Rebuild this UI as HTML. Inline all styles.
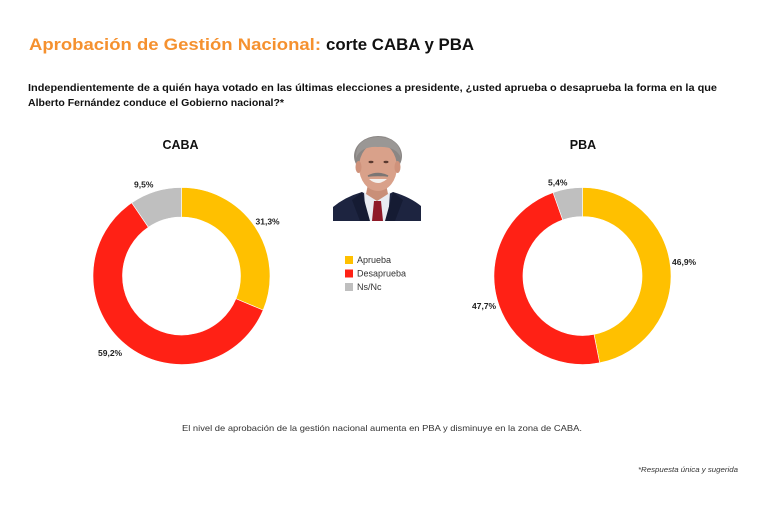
<!DOCTYPE html>
<html>
<head>
<meta charset="utf-8">
<style>
  html, body { margin: 0; padding: 0; background: #ffffff; }
  body { width: 768px; height: 512px; overflow: hidden; }
  svg { display: block; }
  text { font-family: "Liberation Sans", "DejaVu Sans", sans-serif; }
</style>
</head>
<body>
<svg width="768" height="512" viewBox="0 0 768 512" xmlns="http://www.w3.org/2000/svg">
  <rect x="0" y="0" width="768" height="512" fill="#ffffff"/>

  <!-- Title -->
  <text x="29" y="50" font-size="17" font-weight="bold" fill="#F5912F" textLength="292" lengthAdjust="spacingAndGlyphs">Aprobación de Gestión Nacional:</text>
  <text x="326" y="50" font-size="17" font-weight="bold" fill="#111111" textLength="148" lengthAdjust="spacingAndGlyphs">corte CABA y PBA</text>

  <!-- Question -->
  <text x="28" y="91" font-size="10" font-weight="bold" fill="#111111" textLength="689" lengthAdjust="spacingAndGlyphs">Independientemente de a quién haya votado en las últimas elecciones a presidente, ¿usted aprueba o desaprueba la forma en la que</text>
  <text x="28" y="106" font-size="10" font-weight="bold" fill="#111111" textLength="256" lengthAdjust="spacingAndGlyphs">Alberto Fernández conduce el Gobierno nacional?*</text>

  <!-- Chart titles -->
  <text x="180.5" y="149" font-size="12.5" font-weight="bold" fill="#111111" text-anchor="middle">CABA</text>
  <text x="583" y="149" font-size="12.5" font-weight="bold" fill="#111111" text-anchor="middle">PBA</text>

  <!-- CABA donut -->
  <g stroke="#ffffff" stroke-width="0.6">
    <path d="M181.5,187.5 A88.5,88.5 0 0 1 263.14,310.15 L235.93,298.77 A59,59 0 0 0 181.5,217 Z" fill="#FFC000"/>
    <path d="M263.14,310.15 A88.5,88.5 0 1 1 131.75,202.80 L148.34,227.20 A59,59 0 1 0 235.93,298.77 Z" fill="#FF2115"/>
    <path d="M131.75,202.80 A88.5,88.5 0 0 1 181.5,187.5 L181.5,217 A59,59 0 0 0 148.34,227.20 Z" fill="#BFBFBF"/>
  </g>
  <text x="255.5" y="224.5" font-size="8.5" font-weight="bold" fill="#222">31,3%</text>
  <text x="134" y="187.5" font-size="8.5" font-weight="bold" fill="#222">9,5%</text>
  <text x="98" y="356" font-size="8.5" font-weight="bold" fill="#222">59,2%</text>

  <!-- PBA donut -->
  <g stroke="#ffffff" stroke-width="0.6">
    <path d="M582.5,187.5 A88.5,88.5 0 0 1 599.63,362.83 L594.02,334.38 A59.5,59.5 0 0 0 582.5,216.5 Z" fill="#FFC000"/>
    <path d="M599.63,362.83 A88.5,88.5 0 0 1 553.05,192.54 L562.70,219.89 A59.5,59.5 0 0 0 594.02,334.38 Z" fill="#FF2115"/>
    <path d="M553.05,192.54 A88.5,88.5 0 0 1 582.5,187.5 L582.5,216.5 A59.5,59.5 0 0 0 562.70,219.89 Z" fill="#BFBFBF"/>
  </g>
  <text x="548" y="185.5" font-size="8.5" font-weight="bold" fill="#222">5,4%</text>
  <text x="672" y="265" font-size="8.5" font-weight="bold" fill="#222">46,9%</text>
  <text x="472" y="309" font-size="8.5" font-weight="bold" fill="#222">47,7%</text>

  <!-- Portrait (stylized) -->
  <g>
    <path d="M333,207 Q345,197 362,192 L377,200 L393,192 Q410,197 421,206 L421,221 L333,221 Z" fill="#1d2440"/>
    <path d="M364,192 L377,200 L390,192 L388,221 L366,221 Z" fill="#e9ecf2"/>
    <path d="M368,184 L386,184 L388,194 L377,201 L366,194 Z" fill="#c98f78"/>
    <path d="M362,192 L370,221 L360,221 L352,200 Z" fill="#151b33"/>
    <path d="M393,192 L385,221 L395,221 L403,200 Z" fill="#151b33"/>
    <path d="M374,201 L381,201 L383,221 L372,221 Z" fill="#8e1a28"/>
    <ellipse cx="378" cy="156" rx="24" ry="20" fill="#8a8684"/>
    <ellipse cx="378" cy="167" rx="19" ry="24" fill="#d9a18a"/>
    <path d="M356,158 Q355,138 378,137 Q401,138 401,158 Q396,146 378,147 Q361,146 356,158 Z" fill="#9a9795"/>
    <ellipse cx="371" cy="162" rx="2.5" ry="1.2" fill="#5a3a30"/>
    <ellipse cx="386" cy="162" rx="2.5" ry="1.2" fill="#5a3a30"/>
    <path d="M368,176 Q378,171 388,176 Q378,175 368,176 Z" fill="#7b7674" stroke="#7b7674" stroke-width="1.5"/>
    <path d="M369,179 Q378,187 387,179 Z" fill="#f4f1ee"/>
    <ellipse cx="358.5" cy="167" rx="3" ry="6" fill="#cf927b"/>
    <ellipse cx="397.5" cy="167" rx="3" ry="6" fill="#cf927b"/>
  </g>

  <!-- Legend -->
  <rect x="345" y="256" width="8" height="8" fill="#FFC000"/>
  <rect x="345" y="269.5" width="8" height="8" fill="#FF2115"/>
  <rect x="345" y="283" width="8" height="8" fill="#BFBFBF"/>
  <text x="357" y="263" font-size="9" fill="#333">Aprueba</text>
  <text x="357" y="276.5" font-size="9" fill="#333">Desaprueba</text>
  <text x="357" y="290" font-size="9" fill="#333">Ns/Nc</text>

  <!-- Bottom note -->
  <text x="182" y="431" font-size="8.5" fill="#333" textLength="400" lengthAdjust="spacingAndGlyphs">El nivel de aprobación de la gestión nacional aumenta en PBA y disminuye en la zona de CABA.</text>

  <!-- Footnote -->
  <text x="638" y="472" font-size="7.5" font-style="italic" fill="#333" textLength="100" lengthAdjust="spacingAndGlyphs">*Respuesta única y sugerida</text>
</svg>
</body>
</html>
